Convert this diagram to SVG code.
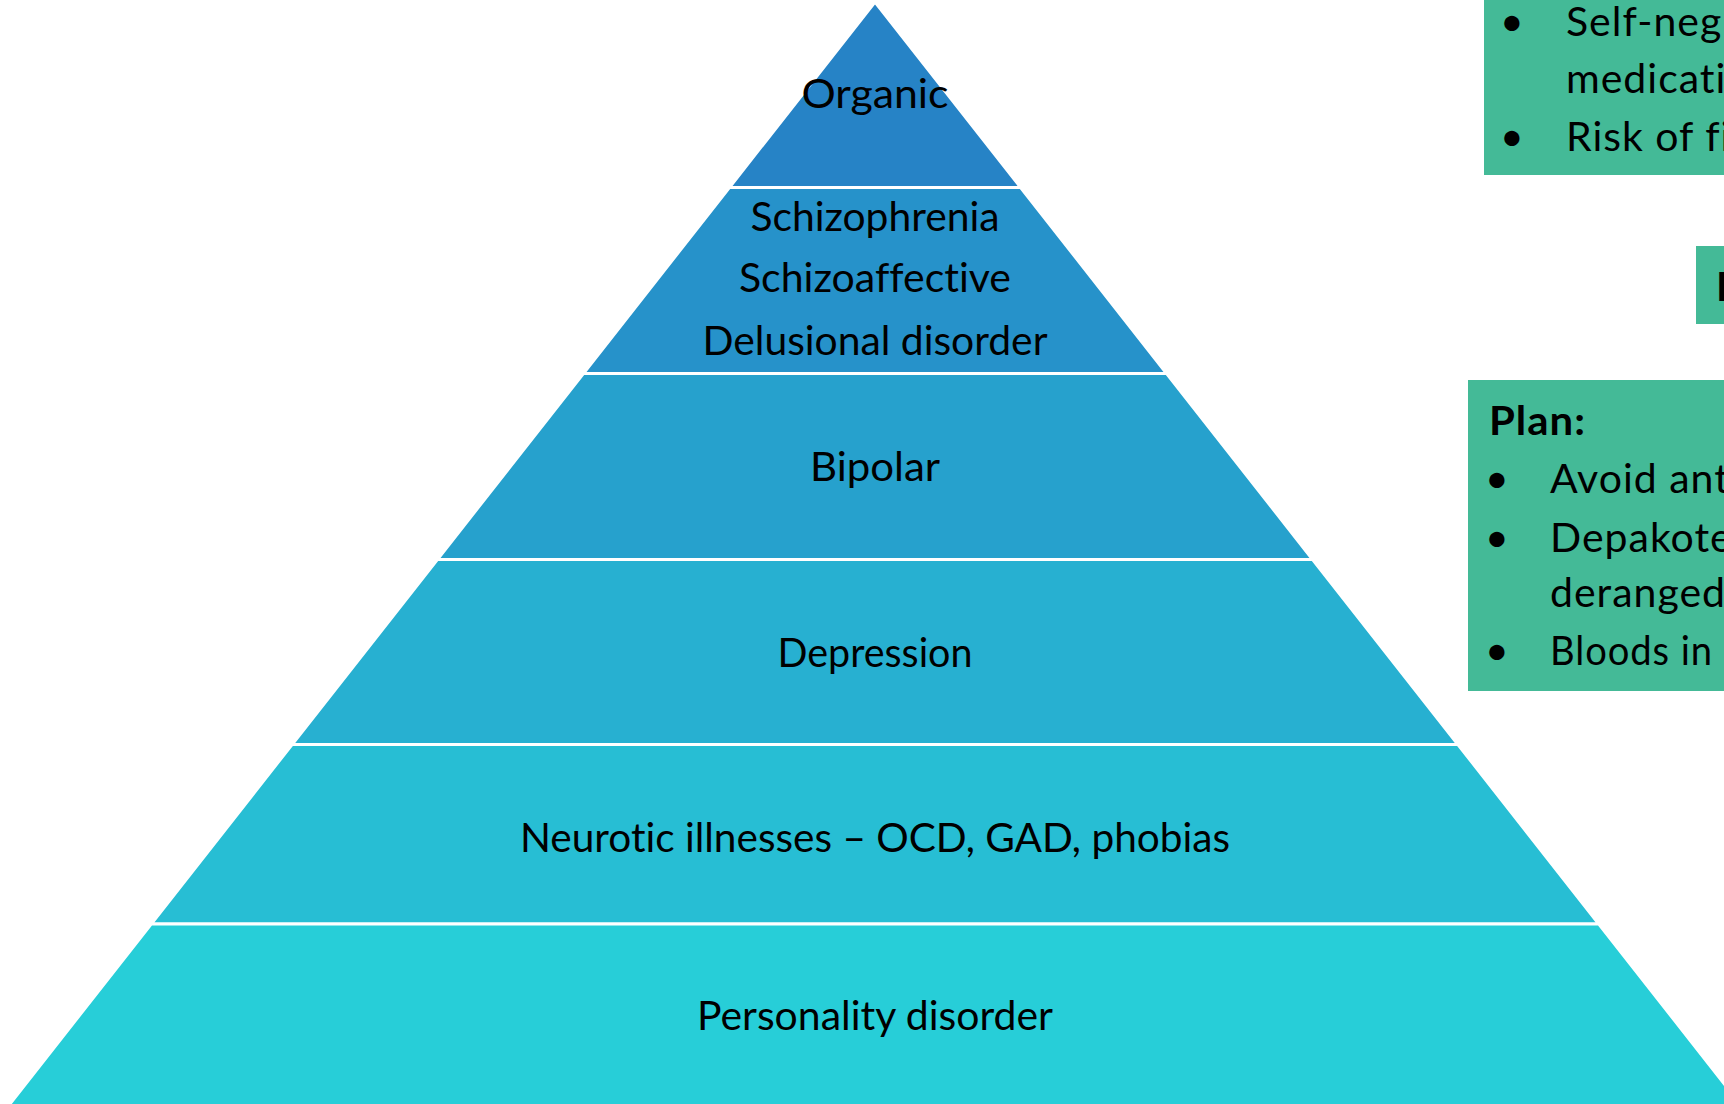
<svg xmlns="http://www.w3.org/2000/svg" width="1724" height="1104" viewBox="0 0 1724 1104">
<style>
.band{stroke:#ffffff;stroke-width:3;stroke-linejoin:miter}
.lbl{font-family:Lato,"Noto Sans","Liberation Sans",sans-serif;font-size:41px;fill:#000;text-anchor:middle;font-variant-ligatures:none}
.box{fill:#44BA97}
.bt{font-family:Lato,"Noto Sans","Liberation Sans",sans-serif;font-size:41px;fill:#000;font-variant-ligatures:none;letter-spacing:1px}
.bold{font-weight:bold}
</style>
<rect width="1724" height="1104" fill="#ffffff"/>
<g id="pyramid">
<g id="organic">
<polygon class="band" fill="#2683C6" points="875,2 1020.6,187.5 729.4,187.5"/>
<text class="lbl" x="875" y="108" textLength="147" lengthAdjust="spacingAndGlyphs">Organic</text>
</g>
<g id="psychosis">
<polygon class="band" fill="#2692CA" points="729.4,187.5 1020.6,187.5 1166.6,373.5 583.4,373.5"/>
<text class="lbl" x="875" y="231" textLength="249" lengthAdjust="spacingAndGlyphs">Schizophrenia</text>
<text class="lbl" x="875" y="292" textLength="272" lengthAdjust="spacingAndGlyphs">Schizoaffective</text>
<text class="lbl" x="875" y="355" textLength="345" lengthAdjust="spacingAndGlyphs">Delusional disorder</text>
</g>
<g id="bipolar">
<polygon class="band" fill="#26A1CD" points="583.4,373.5 1166.6,373.5 1312.6,559.5 437.4,559.5"/>
<text class="lbl" x="875" y="481" textLength="130" lengthAdjust="spacingAndGlyphs">Bipolar</text>
</g>
<g id="depression">
<polygon class="band" fill="#27B0D1" points="437.4,559.5 1312.6,559.5 1457.9,744.5 292.1,744.5"/>
<text class="lbl" x="875" y="667" textLength="195" lengthAdjust="spacingAndGlyphs">Depression</text>
</g>
<g id="neurotic">
<polygon class="band" fill="#27BED4" points="292.1,744.5 1457.9,744.5 1598.8,924 151.2,924"/>
<text class="lbl" x="875" y="852" textLength="710" lengthAdjust="spacingAndGlyphs">Neurotic illnesses – OCD, GAD, phobias</text>
</g>
<g id="personality">
<polygon class="band" fill="#27CED8" points="151.2,924 1598.8,924 1744.8,1110 5.2,1110"/>
<text class="lbl" x="875" y="1030" textLength="356" lengthAdjust="spacingAndGlyphs">Personality disorder</text>
</g>
</g>
<g id="connectors"></g>
<g id="box-top">
<rect class="box" x="1484" y="-10" width="260" height="185"/>
<text class="bt" x="1500" y="36">•</text>
<text class="bt" x="1566" y="36">Self-neg</text>
<text class="bt" x="1566" y="93">medicati</text>
<text class="bt" x="1500" y="151">•</text>
<text class="bt" x="1566" y="151">Risk of fi</text>
</g>
<g id="box-mid">
<rect class="box" x="1696" y="246" width="40" height="78"/>
<text class="bt bold" x="1716" y="301">D</text>
</g>
<g id="box-plan">
<rect class="box" x="1468" y="380" width="270" height="311"/>
<text class="bt bold" x="1489" y="435" textLength="97" lengthAdjust="spacingAndGlyphs">Plan:</text>
<text class="bt" x="1485" y="493">•</text>
<text class="bt" x="1550" y="493">Avoid ant</text>
<text class="bt" x="1485" y="552">•</text>
<text class="bt" x="1550" y="552">Depakote</text>
<text class="bt" x="1550" y="607">deranged</text>
<text class="bt" x="1485" y="665">•</text>
<text class="bt" x="1550" y="665" textLength="163" lengthAdjust="spacingAndGlyphs">Bloods in</text>
</g>
</svg>
